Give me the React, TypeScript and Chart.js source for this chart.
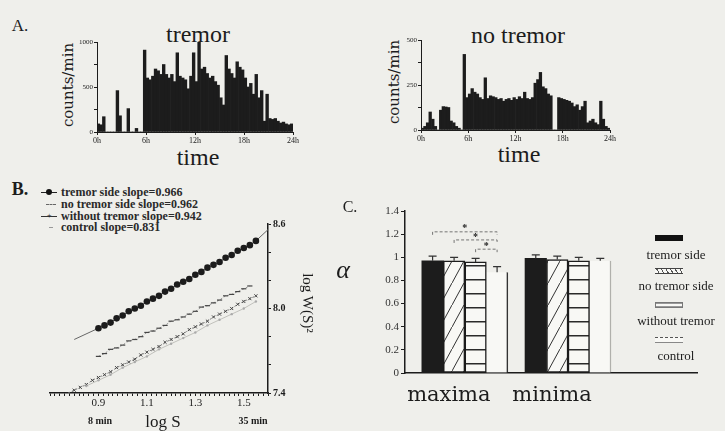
import React, { useEffect, useRef } from 'react';
import { Chart, registerables } from 'chart.js';

Chart.register(...registerables);

// ---------------- data ----------------
// Panel A: activity histograms, 20-minute bins over 24 h
const hourTicks = [0, 6, 12, 18, 24];
const binMinutes = 20;
const tremorCounts = [
  90, 80, 170, 0, 0, 0, 0, 460, 180, 0, 0, 260,
  0, 0, 40, 0, 0, 910, 600, 580, 620, 700, 680, 640,
  750, 640, 600, 640, 560, 880, 620, 600, 580, 480, 620, 880,
  560, 1000, 700, 720, 650, 600, 620, 560, 520, 380, 300, 850,
  700, 650, 600, 780, 720, 690, 600, 500, 540, 420, 640, 380,
  460, 120, 420, 150, 140, 150, 120, 100, 110, 90, 80, 90,
];
const noTremorCounts = [
  10, 20, 40, 100, 60, 20, 0, 110, 130, 128, 125, 50,
  40, 20, 10, 0, 420, 180, 200, 230, 210, 200, 180, 170,
  290, 175, 190, 185, 180, 170, 175, 160, 170, 175, 165, 180,
  170, 185, 175, 210, 175, 170, 180, 260, 280, 320, 240, 230,
  200, 190, 0, 0, 180, 175, 170, 165, 160, 150, 130, 140,
  110, 130, 160, 40, 50, 60, 40, 30, 160, 60, 20, 10,
];
const tremorYMax = 1000;
const tremorYLabels = [0, 500, 1000];
const noTremorYMax = 500;
const noTremorYLabels = [0, 250, 500];

// Panel B: log W(S) vs log S
const seriesNames = ['tremor side', 'no tremor side', 'without tremor', 'control'];
const slopes = [0.966, 0.962, 0.942, 0.831];
const tremorSideLogS = [0.8, 0.9, 0.925, 0.95, 0.975, 1.0, 1.025, 1.05, 1.075, 1.1, 1.125, 1.15, 1.175, 1.2, 1.225, 1.25, 1.275, 1.3, 1.325, 1.35, 1.375, 1.4, 1.425, 1.45, 1.475, 1.5, 1.525, 1.55, 1.6];
const tremorSideLogW = [7.78, 7.86, 7.88, 7.9, 7.93, 7.95, 7.98, 8.0, 8.02, 8.05, 8.07, 8.09, 8.12, 8.14, 8.17, 8.19, 8.21, 8.24, 8.26, 8.29, 8.31, 8.33, 8.36, 8.38, 8.41, 8.43, 8.45, 8.48, 8.56];
const noTremorSideLogS = [0.9, 0.925, 0.95, 0.975, 1.0, 1.025, 1.05, 1.075, 1.1, 1.125, 1.15, 1.175, 1.2, 1.225, 1.25, 1.275, 1.3, 1.325, 1.35, 1.375, 1.4, 1.425, 1.45, 1.475, 1.5, 1.525];
const noTremorSideLogW = [7.66, 7.68, 7.71, 7.72, 7.74, 7.77, 7.78, 7.8, 7.83, 7.84, 7.86, 7.88, 7.91, 7.92, 7.94, 7.96, 7.98, 8.01, 8.02, 8.04, 8.06, 8.09, 8.1, 8.12, 8.14, 8.16];
const withoutTremorLogS = [0.775, 0.8, 0.825, 0.85, 0.875, 0.9, 0.925, 0.95, 0.975, 1.0, 1.025, 1.05, 1.075, 1.1, 1.125, 1.15, 1.175, 1.2, 1.225, 1.25, 1.275, 1.3, 1.325, 1.35, 1.375, 1.4, 1.425, 1.45, 1.475, 1.5, 1.525, 1.55];
const withoutTremorLogW = [7.4, 7.42, 7.44, 7.46, 7.49, 7.51, 7.53, 7.55, 7.58, 7.6, 7.62, 7.64, 7.67, 7.69, 7.71, 7.73, 7.76, 7.78, 7.8, 7.82, 7.85, 7.87, 7.89, 7.91, 7.94, 7.96, 7.98, 8.0, 8.03, 8.05, 8.07, 8.09];
const controlLogS = [0.85, 0.9, 0.95, 1.0, 1.05, 1.1, 1.15, 1.2, 1.25, 1.3, 1.35, 1.4, 1.45, 1.5, 1.55];
const controlLogW = [7.45, 7.49, 7.53, 7.58, 7.62, 7.66, 7.71, 7.75, 7.79, 7.83, 7.88, 7.92, 7.96, 8.0, 8.05];
const logSLabels = [0.9, 1.1, 1.3, 1.5];
const logWLabels = [7.4, 8.0, 8.6];

// Panel C: alpha exponents
const groupLabels = ['maxima', 'minima'];
const alphaMaxima = [0.97, 0.97, 0.96, 0.87];
const alphaMinima = [0.99, 0.98, 0.97, 0.97];
const errMaxima = [0.04, 0.03, 0.03, 0.05];
const errMinima = [0.03, 0.03, 0.03, 0.02];
const sigBrackets = [
  { from: 0, to: 3, y: 1.22 },
  { from: 1, to: 3, y: 1.15 },
  { from: 2, to: 3, y: 1.07 },
];

// ---------------- styles ----------------
const SERIF = '"Liberation Serif", "DejaVu Serif", serif';
const WIDE_SERIF = '"DejaVu Serif", serif';
const INK = '#1c1c1c';
const PAPER = '#efefeb';
const BARWHITE = '#f8f8f5';

const near = (list: number[], v: number) => list.some((l) => Math.abs(l - v) < 1e-6);

const common: any = {
  responsive: false,
  animation: false,
  devicePixelRatio: 1,
  plugins: { legend: { display: false }, tooltip: { enabled: false } },
};

function histConfig(counts: number[], yMax: number, yLabels: number[], padding: any) {
  return {
    type: 'bar',
    data: {
      datasets: [
        {
          data: counts.map((v, i) => ({ x: ((i + 0.5) * binMinutes) / 60, y: v })),
          backgroundColor: INK,
          borderWidth: 0,
          barPercentage: 1,
          categoryPercentage: 1,
        },
      ],
    },
    options: {
      ...common,
      layout: { padding },
      scales: {
        x: {
          type: 'linear',
          offset: false,
          min: 0,
          max: 24,
          afterBuildTicks: (s: any) => {
            s.ticks = hourTicks.map((v) => ({ value: v }));
          },
          ticks: { callback: (v: any) => v + 'h', font: { family: SERIF, size: 8 }, color: INK, padding: 1, maxRotation: 0, autoSkip: false },
          grid: { display: true, offset: false, drawOnChartArea: false, tickLength: 3, color: INK },
          border: { color: INK, width: 1 },
          afterFit: (s: any) => {
            s.height = 20;
          },
        },
        y: {
          min: 0,
          max: yMax,
          ticks: {
            stepSize: yMax / 4,
            callback: (v: any) => (near(yLabels, v) ? String(v) : ''),
            font: { family: SERIF, size: 7 },
            color: INK,
            padding: 1,
          },
          grid: { display: true, drawOnChartArea: false, tickLength: 3, color: INK },
          border: { color: INK, width: 1 },
          afterFit: (s: any) => {
            s.width = 28;
          },
        },
      },
    },
  };
}

function lineConfig() {
  const pts = (xs: number[], ys: number[]) => xs.map((x, i) => ({ x, y: ys[i] }));
  const endsHidden = (n: number, r: number) => (ctx: any) => (ctx.dataIndex === 0 || ctx.dataIndex === n - 1 ? 0 : r);
  return {
    type: 'line',
    data: {
      datasets: [
        {
          label: seriesNames[3],
          data: pts(controlLogS, controlLogW),
          borderColor: '#b5b5b0',
          borderWidth: 0.8,
          pointRadius: 1.2,
          pointBackgroundColor: '#aaa',
          pointBorderWidth: 0,
        },
        {
          label: seriesNames[2],
          data: pts(withoutTremorLogS, withoutTremorLogW),
          borderColor: '#777',
          borderWidth: 0.9,
          borderDash: [2, 2],
          pointStyle: 'crossRot',
          pointRadius: (ctx: any) => (ctx.dataIndex === 0 ? 0 : 2.2),
          pointBorderColor: '#444',
          pointBorderWidth: 1,
        },
        {
          label: seriesNames[1],
          data: pts(noTremorSideLogS, noTremorSideLogW),
          borderColor: '#888',
          borderWidth: 0.9,
          borderDash: [2, 2],
          pointStyle: 'line',
          pointRadius: 2.6,
          pointBorderColor: '#444',
          pointBorderWidth: 1.2,
        },
        {
          label: seriesNames[0],
          data: pts(tremorSideLogS, tremorSideLogW),
          borderColor: '#666',
          borderWidth: 1,
          pointStyle: 'circle',
          pointRadius: endsHidden(tremorSideLogS.length, 3.3),
          pointBackgroundColor: INK,
          pointBorderWidth: 0,
        },
      ],
    },
    options: {
      ...common,
      layout: { padding: { left: 50, top: 54, right: 27, bottom: 0 } },
      scales: {
        x: {
          type: 'linear',
          min: 0.7,
          max: 1.6,
          ticks: {
            stepSize: 0.02,
            autoSkip: false,
            maxRotation: 0,
            callback: (v: any) => (near(logSLabels, v) ? Number(v).toFixed(1) : ''),
            font: { family: SERIF, size: 11 },
            color: INK,
            padding: 1,
          },
          grid: { display: true, drawOnChartArea: false, tickLength: 3, color: INK, lineWidth: 1 },
          border: { color: INK, width: 1.5 },
          afterFit: (s: any) => {
            s.height = 38;
          },
        },
        y: {
          position: 'right',
          min: 7.4,
          max: 8.6,
          ticks: {
            stepSize: 0.1,
            callback: (v: any) => (near(logWLabels, v) ? Number(v).toFixed(1) : ''),
            font: { family: SERIF, size: 10, weight: 'bold' },
            color: INK,
            padding: 2,
          },
          grid: { display: true, drawOnChartArea: false, tickLength: 3, color: INK },
          border: { color: INK, width: 1.5 },
          afterFit: (s: any) => {
            s.width = 40;
          },
        },
      },
    },
  };
}

function makePatterns() {
  const hatch = document.createElement('canvas');
  hatch.width = 12;
  hatch.height = 22;
  const h = hatch.getContext('2d')!;
  h.fillStyle = BARWHITE;
  h.fillRect(0, 0, 12, 22);
  h.strokeStyle = '#333';
  h.lineWidth = 1;
  h.beginPath();
  h.moveTo(-1, 22 + 22 / 12);
  h.lineTo(13, -22 / 12);
  h.stroke();
  const stripe = document.createElement('canvas');
  stripe.width = 4;
  stripe.height = 14;
  const s = stripe.getContext('2d')!;
  s.fillStyle = BARWHITE;
  s.fillRect(0, 0, 4, 14);
  s.fillStyle = '#2a2a2a';
  s.fillRect(0, 0, 4, 1.5);
  const ctx = document.createElement('canvas').getContext('2d')!;
  return {
    hatch: ctx.createPattern(hatch, 'repeat')!,
    stripe: ctx.createPattern(stripe, 'repeat')!,
  };
}

const errorBarPlugin = {
  id: 'errorBars',
  afterDatasetsDraw(chart: any) {
    const ctx = chart.ctx;
    const y = chart.scales.y;
    ctx.save();
    ctx.strokeStyle = '#333';
    ctx.lineWidth = 1.2;
    chart.data.datasets.forEach((_: any, di: number) => {
      const meta = chart.getDatasetMeta(di);
      meta.data.forEach((bar: any, i: number) => {
        const val = i === 0 ? alphaMaxima[di] : alphaMinima[di];
        const err = i === 0 ? errMaxima[di] : errMinima[di];
        const top = y.getPixelForValue(val + err);
        ctx.beginPath();
        ctx.moveTo(bar.x, bar.y);
        ctx.lineTo(bar.x, top);
        ctx.moveTo(bar.x - 4, top);
        ctx.lineTo(bar.x + 4, top);
        ctx.stroke();
      });
    });
    // significance brackets (maxima group)
    ctx.strokeStyle = '#666';
    ctx.lineWidth = 0.9;
    ctx.fillStyle = INK;
    ctx.font = `bold 10px ${SERIF}`;
    ctx.textAlign = 'center';
    ctx.textBaseline = 'middle';
    sigBrackets.forEach((b) => {
      const x1 = chart.getDatasetMeta(b.from).data[0].x;
      const x2 = chart.getDatasetMeta(b.to).data[0].x;
      const py = y.getPixelForValue(b.y);
      ctx.setLineDash([3, 2]);
      ctx.beginPath();
      ctx.moveTo(x1, py + 3);
      ctx.lineTo(x1, py);
      ctx.lineTo(x2, py);
      ctx.lineTo(x2, py + 3);
      ctx.stroke();
      ctx.setLineDash([]);
      ctx.fillText('*', (x1 + x2) / 2, py - 3);
    });
    ctx.restore();
  },
};

function barConfig() {
  const p = makePatterns();
  const fills = [INK, p.hatch, p.stripe, BARWHITE];
  const all = [alphaMaxima, alphaMinima];
  return {
    type: 'bar',
    data: {
      datasets: seriesNames.map((name, k) => ({
        label: name,
        data: groupLabels.map((_, g) => ({ x: g, y: all[g][k] })),
        backgroundColor: fills[k],
        borderColor: k === 3 ? ['#333', '#b0b0ab'] : INK,
        borderWidth: k === 0 ? 0 : k === 3 ? { top: 0, left: 0, bottom: 0, right: 1.5 } : 1.5,
        borderSkipped: false,
        barThickness: 21.5,
      })),
    },
    options: {
      ...common,
      layout: { padding: { left: 60, top: 16, right: 28, bottom: 0 } },
      scales: {
        x: {
          type: 'linear',
          offset: false,
          min: -0.58,
          max: 2.25,
          afterBuildTicks: (s: any) => {
            s.ticks = groupLabels.map((_, i) => ({ value: i }));
          },
          ticks: {
            callback: (v: any) => groupLabels[v] ?? '',
            font: { family: WIDE_SERIF, size: 21 },
            color: INK,
            padding: 2,
            labelOffset: -16,
            maxRotation: 0,
            autoSkip: false,
          },
          grid: { display: false, offset: false },
          border: { display: true, color: INK, width: 1.5 },
          afterFit: (s: any) => {
            s.height = 58;
          },
        },
        y: {
          min: 0,
          max: 1.4,
          ticks: {
            stepSize: 0.2,
            callback: (v: any) => String(Number(Number(v).toFixed(1))),
            font: { family: SERIF, size: 11 },
            color: '#333',
            padding: 2,
          },
          grid: { display: true, drawOnChartArea: false, tickLength: 4, color: INK },
          border: { color: INK, width: 1.5 },
          afterFit: (s: any) => {
            s.width = 25;
          },
        },
      },
    },
    plugins: [errorBarPlugin],
  };
}

function ChartBox({ left, top, width, height, build }: any) {
  const ref = useRef<HTMLCanvasElement>(null);
  useEffect(() => {
    const chart = new Chart(ref.current as HTMLCanvasElement, build());
    return () => chart.destroy();
  }, []);
  return <canvas ref={ref} width={width} height={height} style={{ position: 'absolute', left, top, width, height }} />;
}

const T = (props: any) => {
  const { x, y, size = 12, bold, italic, rotate, children, family = SERIF, color = INK, spacing } = props;
  return (
    <div
      style={{
        position: 'absolute',
        left: x,
        top: y,
        transform: `translate(-50%, -50%)${rotate ? ` rotate(${rotate}deg)` : ''}`,
        fontFamily: family,
        fontSize: size,
        fontWeight: bold ? 'bold' : 'normal',
        fontStyle: italic ? 'italic' : 'normal',
        color,
        whiteSpace: 'nowrap',
        lineHeight: 1,
        letterSpacing: spacing,
      }}
    >
      {children}
    </div>
  );
};

function BLegend() {
  const rows = [193, 205, 217, 228];
  const sym = (k: number) => {
    const base: any = { position: 'absolute', left: 0, top: 0, width: 16, height: 8 };
    if (k === 0)
      return (
        <div style={base}>
          <div style={{ position: 'absolute', left: 0, top: 4, width: 16, borderTop: '1.5px solid #222' }} />
          <div style={{ position: 'absolute', left: 5, top: 1, width: 6, height: 6, borderRadius: 3, background: '#111' }} />
        </div>
      );
    if (k === 1)
      return (
        <div style={base}>
          <div style={{ position: 'absolute', left: 5, top: 4, width: 10, borderTop: '1px dashed #666' }} />
        </div>
      );
    if (k === 2)
      return (
        <div style={base}>
          <div style={{ position: 'absolute', left: 0, top: 4, width: 16, borderTop: '1.2px solid #333' }} />
          <div style={{ position: 'absolute', left: 6, top: 1, fontSize: 8, lineHeight: '6px', color: '#222' }}>+</div>
        </div>
      );
    return (
      <div style={base}>
        <div style={{ position: 'absolute', left: 8, top: 4, width: 4, borderTop: '1px solid #999' }} />
      </div>
    );
  };
  return (
    <>
      {seriesNames.map((n, k) => (
        <div key={n} style={{ position: 'absolute', left: 41, top: rows[k] - 5 }}>
          {sym(k)}
          <div
            style={{
              position: 'absolute',
              left: 20,
              top: -2,
              fontFamily: SERIF,
              fontSize: 12,
              fontWeight: 'bold',
              color: '#2a2a2a',
              whiteSpace: 'nowrap',
              lineHeight: '12px',
            }}
          >
            {`${n} slope=${slopes[k]}`}
          </div>
        </div>
      ))}
    </>
  );
}

function CLegend() {
  const sw = [238, 271, 305, 340];
  const tx = [254, 285, 320, 355];
  const swStyle = (k: number): any => {
    const base: any = { position: 'absolute', left: 655, top: sw[k] - 3, width: 28, height: 6, boxSizing: 'border-box' };
    if (k === 0) return { ...base, background: '#111' };
    if (k === 1)
      return {
        ...base,
        background: `repeating-linear-gradient(60deg, ${BARWHITE} 0 3px, #555 3px 4px)`,
        borderTop: '1px solid #444',
        borderBottom: '1px solid #444',
      };
    if (k === 2)
      return { ...base, background: `repeating-linear-gradient(0deg, #999 0 1px, ${BARWHITE} 1px 3px)`, border: '1px solid #777' };
    return { ...base, borderTop: '1px dashed #555', borderBottom: '1px solid #888', background: BARWHITE };
  };
  return (
    <>
      {seriesNames.map((n, k) => (
        <React.Fragment key={n}>
          <div style={swStyle(k)} />
          <T x={676} y={tx[k]} size={13}>
            {n}
          </T>
        </React.Fragment>
      ))}
    </>
  );
}

export default function App() {
  return (
    <div
      style={{
        position: 'fixed',
        left: 0,
        top: 0,
        width: 725,
        height: 431,
        background: PAPER,
        overflow: 'hidden',
      }}
    >
      {/* Panel A */}
      <T x={20} y={25} size={17}>A.</T>
      <T x={198} y={34} size={24}>tremor</T>
      <T x={518} y={35} size={24}>no tremor</T>
      <T x={68} y={85} size={15} rotate={-90} family={WIDE_SERIF}>counts/min</T>
      <T x={394} y={82} size={15} rotate={-90} family={WIDE_SERIF}>counts/min</T>
      <T x={198} y={157} size={24}>time</T>
      <T x={519} y={154} size={24}>time</T>
      <ChartBox
        left={40}
        top={22}
        width={265}
        height={130}
        build={() => histConfig(tremorCounts, tremorYMax, tremorYLabels, { left: 29, top: 20, right: 12, bottom: 0 })}
      />
      <ChartBox
        left={365}
        top={20}
        width={265}
        height={130}
        build={() => histConfig(noTremorCounts, noTremorYMax, noTremorYLabels, { left: 28, top: 20, right: 20, bottom: 0 })}
      />

      {/* Panel B */}
      <T x={20} y={189} size={18} bold>B.</T>
      <BLegend />
      <ChartBox left={0} top={170} width={335} height={261} build={lineConfig} />
      <T x={100} y={421} size={10} bold>8 min</T>
      <T x={163} y={421} size={17}>log S</T>
      <T x={253} y={421} size={10} bold>35 min</T>
      <T x={307} y={303} size={15} rotate={90}>log W(S)²</T>

      {/* Panel C */}
      <T x={350} y={207} size={16}>C.</T>
      <T x={343} y={270} size={26} italic>α</T>
      <ChartBox left={320} top={195} width={405} height={236} build={barConfig} />
      <CLegend />
    </div>
  );
}
